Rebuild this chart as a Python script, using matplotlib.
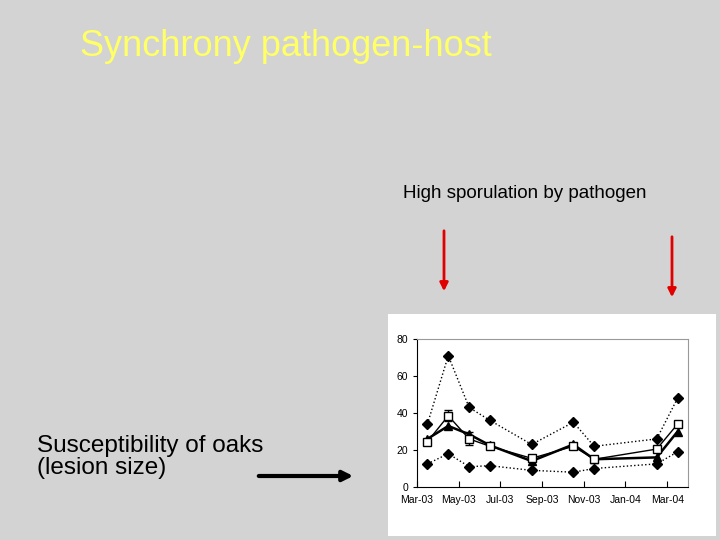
import matplotlib.pyplot as plt

plt.rcParams['font.family'] = ['Liberation Sans', 'DejaVu Sans']

# months since Mar-03
months = [0.5, 1.5, 2.5, 3.5, 5.5, 7.5, 8.5, 11.5, 12.5]
upper = [34, 71, 43, 36, 23, 35, 22, 26, 48]
lower = [12.5, 18, 11, 11.5, 9, 8, 10, 12.5, 19]
open_sq = [24.5, 38.5, 26, 22, 15.5, 22, 15, 20.5, 34]
open_err = [1.5, 3, 3.5, 1.5, 1, 1.5, 1, 1, 1.5]
filled = [26, 33, 28.5, 22.5, 14, 23, 15, 16, 30]
tick_pos = [0, 2, 4, 6, 8, 10, 12]
tick_labels = ['Mar-03', 'May-03', 'Jul-03', 'Sep-03', 'Nov-03', 'Jan-04', 'Mar-04']

fig = plt.figure(figsize=(7.2, 5.4), dpi=100)
fig.patch.set_facecolor('#d3d3d3')

fig.text(80/720, 1 - 47/540, 'Synchrony pathogen-host', color='#ffff66', fontsize=26, va='center')
fig.text(403/720, 1 - 193/540, 'High sporulation by pathogen', fontsize=13.5, va='center')
fig.text(37/720, 1 - 457/540, 'Susceptibility of oaks\n(lesion size)', fontsize=17.5, va='center',
         linespacing=1.05)

# arrows and inset background
arr = fig.add_axes([0, 0, 1, 1])
arr.set_xlim(0, 720)
arr.set_ylim(540, 0)
arr.axis('off')
for x0, y0, y1 in [(444, 228, 294), (672, 234, 300)]:
    arr.annotate('', xy=(x0, y1), xytext=(x0, y0),
                 arrowprops=dict(arrowstyle='-|>', color='#e00000', lw=2, mutation_scale=12))
arr.annotate('', xy=(356, 476), xytext=(256, 476),
             arrowprops=dict(arrowstyle='-|>', color='black', lw=3, mutation_scale=15))
arr.add_patch(plt.Rectangle((388, 314), 328, 222, facecolor='white', edgecolor='none'))

ax = fig.add_axes([417/720, 1 - 487/540, 271/720, 148/540])
ax.plot(months, upper, ':', color='black', lw=1, marker='D', ms=5, mfc='black')
ax.plot(months, lower, ':', color='black', lw=1, marker='D', ms=5, mfc='black')
ax.plot(months, filled, '-', color='black', lw=1.8, marker='^', ms=6)
ax.errorbar(months, open_sq, yerr=open_err, fmt='-s', color='black', lw=1, ms=6,
            mfc='white', capsize=3)
ax.set_xlim(0, 13)
ax.set_ylim(0, 80)
ax.set_yticks([0, 20, 40, 60, 80])
ax.set_xticks(tick_pos)
ax.set_xticklabels(tick_labels)
ax.tick_params(labelsize=7.5, length=3)
ax.tick_params(axis='x', direction='in', length=4, pad=6)
for s in ['top', 'right']:
    ax.spines[s].set_color('#999999')

fig.savefig('out.png', dpi=100)
